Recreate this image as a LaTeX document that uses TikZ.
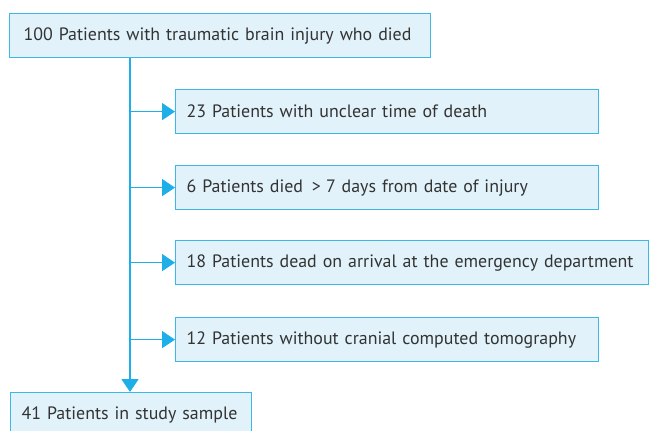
\documentclass[tikz,border=0pt]{standalone}
\usepackage{fontspec}
\setmainfont{PT Sans}
\usetikzlibrary{arrows.meta,positioning}
\definecolor{boxfill}{HTML}{E1F2FA}
\definecolor{boxline}{HTML}{3DB8E6}
\definecolor{flowline}{HTML}{1EAFE8}
\definecolor{txt}{HTML}{333333}
\tikzset{
  flowbox/.style={draw=boxline, fill=boxfill, line width=1.2pt, text=txt,
    anchor=north west, minimum height=44pt, inner xsep=11pt, align=left,
    font=\fontsize{17.9}{21}\selectfont},
  flowarrow/.style={draw=flowline, line width=1.6pt,
    -{Triangle[length=13pt,width=17pt]}}
}
\begin{document}
\begin{tikzpicture}[x=1pt,y=-1pt]
        % Cadre de la figure
        \useasboundingbox (0,0) rectangle (649,431);

        % Boites principales
        \node[flowbox, text width=399pt] (total) at (9,13) {\hspace*{3pt}100 Patients with traumatic brain injury who died};
        \node[flowbox, text width=219pt] (sample) at (10,392) {41 Patients in study sample};

        % Boites des exclusions
        \node[flowbox, text width=401pt] (excl1) at (175,89) {23 Patients with unclear time of death};
        \node[flowbox, text width=401pt] (excl2) at (175,165) {6 Patients died \,>\;7 days from date of injury};
        \node[flowbox, text width=451pt] (excl3) at (175,240) {18 Patients dead on arrival at the emergency department};
        \node[flowbox, text width=401pt] (excl4) at (175,317) {12 Patients without cranial computed tomography};

        % Tronc vertical
        \coordinate (trunk) at (130,58);
        \draw[flowarrow] (trunk) -- (sample.north -| trunk);

        % Fleches vers les exclusions
        \draw[flowarrow] (trunk |- excl1.west) -- (excl1.west);
        \draw[flowarrow] (trunk |- excl2.west) -- (excl2.west);
        \draw[flowarrow] (trunk |- excl3.west) -- (excl3.west);
        \draw[flowarrow] (trunk |- excl4.west) -- (excl4.west);

    \end{tikzpicture}
\end{document}
